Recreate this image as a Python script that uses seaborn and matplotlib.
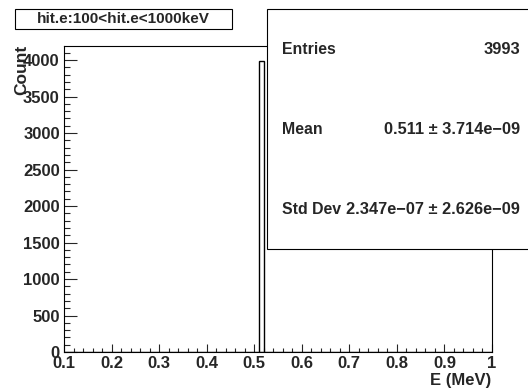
import pandas as pd
import matplotlib
matplotlib.use("Agg")
import matplotlib.pyplot as plt
from matplotlib.patches import Rectangle
from matplotlib.ticker import MultipleLocator, FixedLocator
import seaborn as sns

# Energy deposits (MeV) and their counts
energy_mev = [0.511]
counts = [3993]
bin_lo, bin_hi, n_bins = 0.1, 1.0, 90

x_ticks = [0.1, 0.2, 0.3, 0.4, 0.5, 0.6, 0.7, 0.8, 0.9, 1.0]
x_tick_labels = ["0.1", "0.2", "0.3", "0.4", "0.5", "0.6", "0.7", "0.8", "0.9", "1"]
y_ticks = [0, 500, 1000, 1500, 2000, 2500, 3000, 3500, 4000]
y_tick_labels = ["0", "500", "1000", "1500", "2000", "2500", "3000", "3500", "4000"]

title_text = "hit.e:100<hit.e<1000keV"
x_label = "E (MeV)"
y_label = "Count"
stat_names = ["Entries", "Mean", "Std Dev"]
stat_values = ["3993", "0.511 \u00b1 3.714e\u221209", "2.347e\u221207 \u00b1 2.626e\u221209"]

sns.set_style("ticks")
plt.rcParams["font.family"] = ["Liberation Sans", "DejaVu Sans"]
plt.rcParams["font.weight"] = "bold"

W, H = 528, 392
fig = plt.figure(figsize=(W / 100, H / 100), dpi=100)
fig.patch.set_facecolor("white")

# plot frame in pixel units (left, top, right, bottom)
L, T, R, B = 64, 46, 492, 352
ax = fig.add_axes([L / W, 1 - B / H, (R - L) / W, (B - T) / H])
ax.set_facecolor("white")

df = pd.DataFrame({"E": energy_mev, "n": counts})
sns.histplot(data=df, x="E", weights="n", bins=n_bins, binrange=(bin_lo, bin_hi),
             element="bars", fill=False, color="black", linewidth=1.0, ax=ax)

ax.set_xlim(bin_lo, bin_hi)
ax.set_ylim(0, max(counts) * 1.05)
ax.set_xlabel("")
ax.set_ylabel("")

for s in ax.spines.values():
    s.set_visible(True)
    s.set_color("black")
    s.set_linewidth(0.8)

ax.xaxis.set_major_locator(FixedLocator(x_ticks))
ax.set_xticklabels(x_tick_labels)
ax.xaxis.set_minor_locator(MultipleLocator(0.02))
ax.yaxis.set_major_locator(FixedLocator(y_ticks))
ax.set_yticklabels(y_tick_labels)
ax.yaxis.set_minor_locator(MultipleLocator(100))

fs = 12
ax.tick_params(axis="x", which="major", direction="in", length=6, width=0.8,
               labelsize=fs, pad=3, top=False)
ax.tick_params(axis="x", which="minor", direction="in", length=3, width=0.8, top=False)
ax.tick_params(axis="y", which="major", direction="in", length=9, width=0.8,
               labelsize=fs, pad=3, right=False)
ax.tick_params(axis="y", which="minor", direction="in", length=4.5, width=0.8, right=False)

def fx(px):
    return px / W

def fy(py):
    return 1 - py / H

# axis titles
fig.text(fx(491), fy(380), x_label, ha="right", va="center", fontsize=fs, fontweight="bold")
fig.text(fx(21.5), fy(45), y_label, ha="center", va="top", rotation=90,
         fontsize=12.5, fontweight="bold")

# title box
fig.add_artist(Rectangle((fx(15), fy(29)), fx(232) - fx(15), fy(9) - fy(29),
                         transform=fig.transFigure, facecolor="white",
                         edgecolor="black", linewidth=0.8, zorder=5))
fig.text(fx(123.5), fy(19), title_text, ha="center", va="center",
         fontsize=11, fontweight="bold", zorder=6)

# statistics box
fig.add_artist(Rectangle((fx(267), fy(249)), fx(600) - fx(267), fy(9) - fy(249),
                         transform=fig.transFigure, facecolor="white",
                         edgecolor="black", linewidth=0.8, zorder=5,
                         clip_on=False))
row_y = [49, 130, 209]
for name, val, yy in zip(stat_names, stat_values, row_y):
    fig.text(fx(282), fy(yy), name, ha="left", va="center", fontsize=11.4,
             fontweight="bold", zorder=6)
    fig.text(fx(520), fy(yy), val, ha="right", va="center", fontsize=11.8,
             fontweight="bold", zorder=6)

fig.savefig("out.png", dpi=100, facecolor="white")
